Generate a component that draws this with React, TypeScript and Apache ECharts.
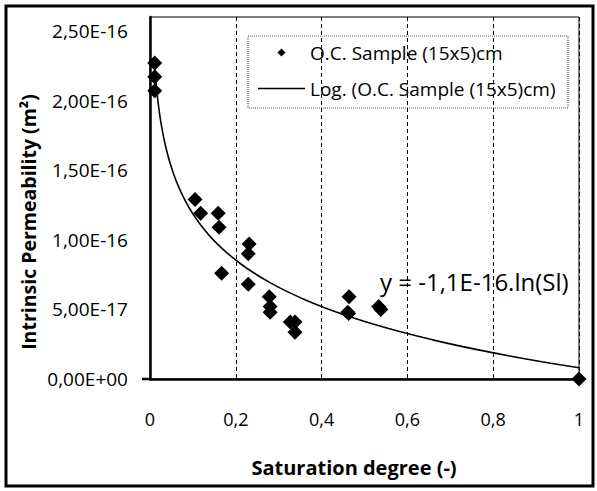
import React, { useEffect, useRef } from "react";
import * as echarts from "echarts";

// Saturation degree (-)
const SAT_X = [
  0.011, 0.011, 0.011, 0.105, 0.118, 0.159, 0.161, 0.231, 0.229, 0.167, 0.229,
  0.278, 0.28, 0.28, 0.327, 0.338, 0.338, 0.464, 0.461, 0.463, 0.533, 0.538, 1.0,
];
// Intrinsic permeability (m²)
const PERM_Y = [
  2.27e-16, 2.17e-16, 2.07e-16, 1.29e-16, 1.19e-16, 1.19e-16, 1.09e-16, 0.97e-16,
  0.9e-16, 0.76e-16, 0.68e-16, 0.59e-16, 0.52e-16, 0.48e-16, 0.41e-16, 0.41e-16,
  0.335e-16, 0.59e-16, 0.48e-16, 0.47e-16, 0.52e-16, 0.5e-16, 0.0,
];
// Logarithmic trendline as drawn in the picture: y = A*ln(x) + B
const TREND_A = -4.8e-17;
const TREND_B = 8.1e-18;

const X_TICKS = [0, 0.2, 0.4, 0.6, 0.8, 1];
const Y_MAX = 2.6e-16;
const Y_INTERVAL = 5e-17;
const SERIES_SCATTER = "O.C. Sample (15x5)cm";
const SERIES_TREND = "Log. (O.C. Sample (15x5)cm)";
const EQUATION = "y = -1,1E-16.ln(Sl)";
const X_TITLE = "Saturation degree (-)";
const Y_TITLE = "Intrinsic Permeability (m²)";

const FONT = "'Open Sans', 'Noto Sans', sans-serif";

function fmtSci(v: number): string {
  const s = v.toExponential(2);
  const [mant, exp] = s.split("e");
  const sign = exp[0] === "-" ? "-" : "+";
  const digits = exp.replace(/^[+-]/, "").padStart(2, "0");
  return mant.replace(".", ",") + "E" + sign + digits;
}

function fmtX(v: number): string {
  return String(Math.round(v * 10) / 10).replace(".", ",");
}

export default function App() {
  const ref = useRef<HTMLDivElement>(null);

  useEffect(() => {
    if (!ref.current) return;
    const chart = echarts.init(ref.current, undefined, { renderer: "svg" });

    const xmin = Math.min(...SAT_X);
    const xmax = Math.max(...SAT_X);
    const trend: number[][] = [];
    const steps = 200;
    for (let i = 0; i <= steps; i++) {
      const x = xmin * Math.pow(xmax / xmin, i / steps);
      trend.push([x, TREND_A * Math.log(x) + TREND_B]);
    }

    chart.setOption({
      animation: false,
      backgroundColor: "#fff",
      grid: {
        left: 150,
        right: 18,
        top: 17,
        bottom: 112,
        show: true,
        borderColor: "#000",
        borderWidth: 1,
        backgroundColor: "transparent",
      },
      legend: {
        left: 258,
        top: 43,
        orient: "vertical",
        padding: 0,
        itemWidth: 47,
        itemHeight: 8,
        itemGap: 17,
        symbolKeepAspect: true,
        textStyle: { fontFamily: FONT, fontSize: 19, color: "#000" },
        data: [
          {
            name: SERIES_SCATTER,
            icon: "path://M5,0L10,5L5,10L0,5Z",
            itemStyle: { color: "#000", opacity: 1 },
          },
          {
            name: SERIES_TREND,
            icon: "path://M0,0L47,0L47,1.6L0,1.6Z",
            itemStyle: { color: "#000", opacity: 1 },
          },
        ],
      },
      xAxis: {
        type: "value",
        min: X_TICKS[0],
        max: X_TICKS[X_TICKS.length - 1],
        interval: 0.2,
        axisLine: { show: true, lineStyle: { color: "#000", width: 2.5 } },
        axisTick: { show: false },
        axisLabel: {
          margin: 31,
          fontFamily: FONT,
          fontSize: 18,
          color: "#000",
          formatter: (v: number) => fmtX(v),
        },
        splitLine: {
          show: true,
          lineStyle: { color: "#000", width: 1, type: [4, 3] },
        },
      },
      yAxis: {
        type: "value",
        min: 0,
        max: Y_MAX,
        interval: Y_INTERVAL,
        axisLine: { show: true, lineStyle: { color: "#000", width: 2.5 } },
        axisTick: { show: false },
        splitLine: { show: false },
        axisLabel: {
          margin: 22,
          showMaxLabel: false,
          fontFamily: FONT,
          fontSize: 19,
          color: "#000",
          formatter: (v: number) => fmtSci(v),
        },
      },
      series: [
        {
          name: SERIES_TREND,
          type: "line",
          data: trend,
          showSymbol: false,
          symbol: "none",
          lineStyle: { color: "#000", width: 1.6 },
          itemStyle: { color: "#000" },
          z: 2,
        },
        {
          name: SERIES_SCATTER,
          type: "scatter",
          data: SAT_X.map((x, i) => [x, PERM_Y[i]]),
          symbol: "diamond",
          symbolSize: 15,
          clip: false,
          itemStyle: { color: "#000", opacity: 1 },
          z: 3,
        },
      ],
      graphic: [
        {
          type: "rect",
          shape: { x: 6, y: 6, width: 587, height: 480 },
          style: { fill: "none", stroke: "#000", lineWidth: 3 },
          silent: true,
        },
        {
          type: "rect",
          shape: { x: 248, y: 36, width: 320, height: 72 },
          style: { fill: "none", stroke: "#888", lineWidth: 1.5, lineDash: [1, 1] },
          silent: true,
        },
        {
          type: "line",
          shape: { x1: 142, y1: 379, x2: 150, y2: 379 },
          style: { stroke: "#000", lineWidth: 2.5 },
          silent: true,
        },
        {
          type: "text",
          x: 380,
          y: 281,
          style: {
            text: EQUATION,
            font: `24px ${FONT}`,
            fill: "#000",
            textAlign: "left",
            textVerticalAlign: "middle",
          },
        },
        {
          type: "text",
          x: 354,
          y: 467,
          style: {
            text: X_TITLE,
            font: `bold 20px ${FONT}`,
            fill: "#000",
            textAlign: "center",
            textVerticalAlign: "middle",
          },
        },
        {
          type: "text",
          x: 28,
          y: 222,
          rotation: Math.PI / 2,
          style: {
            text: Y_TITLE,
            font: `bold 19.5px ${FONT}`,
            fill: "#000",
            textAlign: "center",
            textVerticalAlign: "middle",
          },
        },
      ],
    });

    return () => chart.dispose();
  }, []);

  return (
    <div
      ref={ref}
      style={{ position: "fixed", left: 0, top: 0, width: 597, height: 491 }}
    />
  );
}
